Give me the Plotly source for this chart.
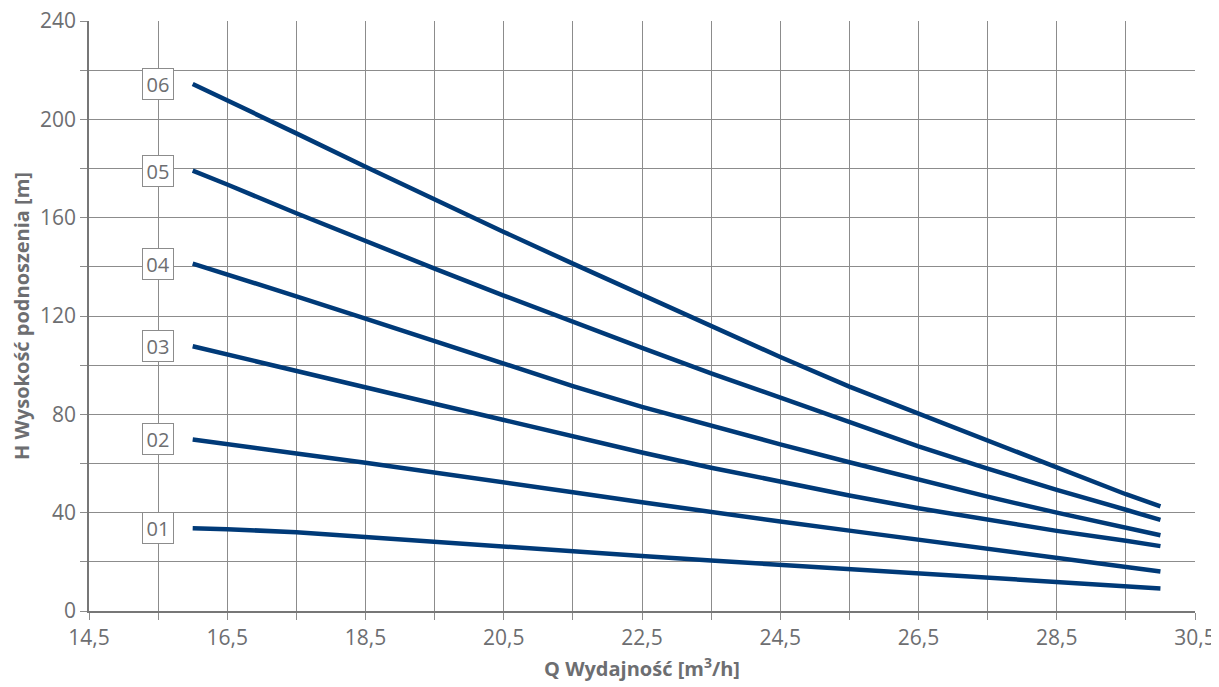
import plotly.graph_objects as go

# Flow rate Q [m3/h] sample points (read at grid columns)
q = [16, 16.5, 17.5, 18.5, 19.5, 20.5, 21.5, 22.5, 23.5, 24.5, 25.5, 26.5, 27.5, 28.5, 29.5, 30]

# Head H [m] per pump stage
h01 = [33.7, 33.3, 32.0, 30.0, 28.0, 26.0, 24.3, 22.4, 20.5, 18.7, 16.9, 15.1, 13.4, 11.7, 10.0, 9.2]
h02 = [69.8, 67.8, 64.1, 60.3, 56.4, 52.4, 48.3, 44.2, 40.2, 36.4, 32.7, 29.0, 25.3, 21.5, 17.8, 16.1]
h03 = [107.7, 104.3, 97.7, 91.0, 84.3, 77.7, 71.0, 64.5, 58.3, 52.5, 47.0, 41.8, 37.0, 32.6, 28.6, 26.4]
h04 = [141.3, 137.0, 128.0, 118.9, 109.8, 100.6, 91.5, 83.0, 75.2, 67.8, 60.5, 53.3, 46.5, 40.0, 34.0, 30.8]
h05 = [179.1, 173.5, 161.8, 150.4, 139.3, 128.3, 117.5, 107.0, 96.7, 86.7, 76.8, 67.0, 57.9, 49.3, 41.2, 37.1]
h06 = [214.4, 207.8, 194.3, 180.7, 167.3, 154.2, 141.3, 128.6, 116.0, 103.3, 91.3, 80.2, 69.3, 58.4, 47.5, 42.6]

series_names = ["01", "02", "03", "04", "05", "06"]
series_values = [h01, h02, h03, h04, h05, h06]

label_x = 15.5

line_color = "#003a78"
text_color = "#6d6e71"
grid_color = "#8c8c8c"
font_family = "Open Sans, Noto Sans, sans-serif"

fig = go.Figure()
for name, vals in zip(series_names, series_values):
    fig.add_trace(go.Scatter(
        x=q, y=vals, mode="lines", name=name,
        line=dict(color=line_color, width=4.5),
        showlegend=False, hoverinfo="x+y+name",
    ))
    fig.add_annotation(
        x=label_x, y=vals[0], xref="x", yref="y",
        text=name, showarrow=False,
        font=dict(family=font_family, size=20, color=text_color),
        bgcolor="white", bordercolor=grid_color, borderwidth=1,
        width=26, height=26, borderpad=2,
        xanchor="center", yanchor="middle",
    )

# the page body adds an 8px offset, so the figure is 8px smaller
fig.update_layout(
    width=1211, height=679,
    margin=dict(l=81, r=24, t=13, b=76),
    paper_bgcolor="white", plot_bgcolor="white",
    font=dict(family=font_family, color=text_color, size=21),
    xaxis=dict(
        range=[14.5, 30.5], tick0=14.5, dtick=2, tickformat=".1f",
        automargin=False, ticklabeloverflow="allow",
        showgrid=True, gridcolor=grid_color, gridwidth=1,
        ticks="outside", ticklen=7, tickcolor=grid_color,
        minor=dict(dtick=1, tick0=14.5, showgrid=True, gridcolor=grid_color,
                   ticks="outside", ticklen=7, tickcolor=grid_color),
        showline=True, linecolor="#777777", linewidth=1.5,
        zeroline=False,
        tickfont=dict(size=21, color=text_color),
        title=dict(text="<b>Q Wydajność [m<sup>3</sup>/h]</b>",
                   font=dict(size=20, color=text_color), standoff=12),
    ),
    yaxis=dict(
        range=[0, 240], tick0=0, dtick=40,
        automargin=False, ticklabeloverflow="allow",
        showgrid=True, gridcolor=grid_color, gridwidth=1,
        ticks="outside", ticklen=7, tickcolor=grid_color,
        minor=dict(dtick=20, tick0=0, showgrid=True, gridcolor=grid_color,
                   ticks="outside", ticklen=7, tickcolor=grid_color),
        showline=True, linecolor="#777777", linewidth=1.5,
        zeroline=False,
        tickfont=dict(size=21, color=text_color),
        title=dict(text="<b>H Wysokość podnoszenia [m]</b>",
                   font=dict(size=20, color=text_color), standoff=8),
    ),
    separators=", ",
)

fig.write_html("out.html")
